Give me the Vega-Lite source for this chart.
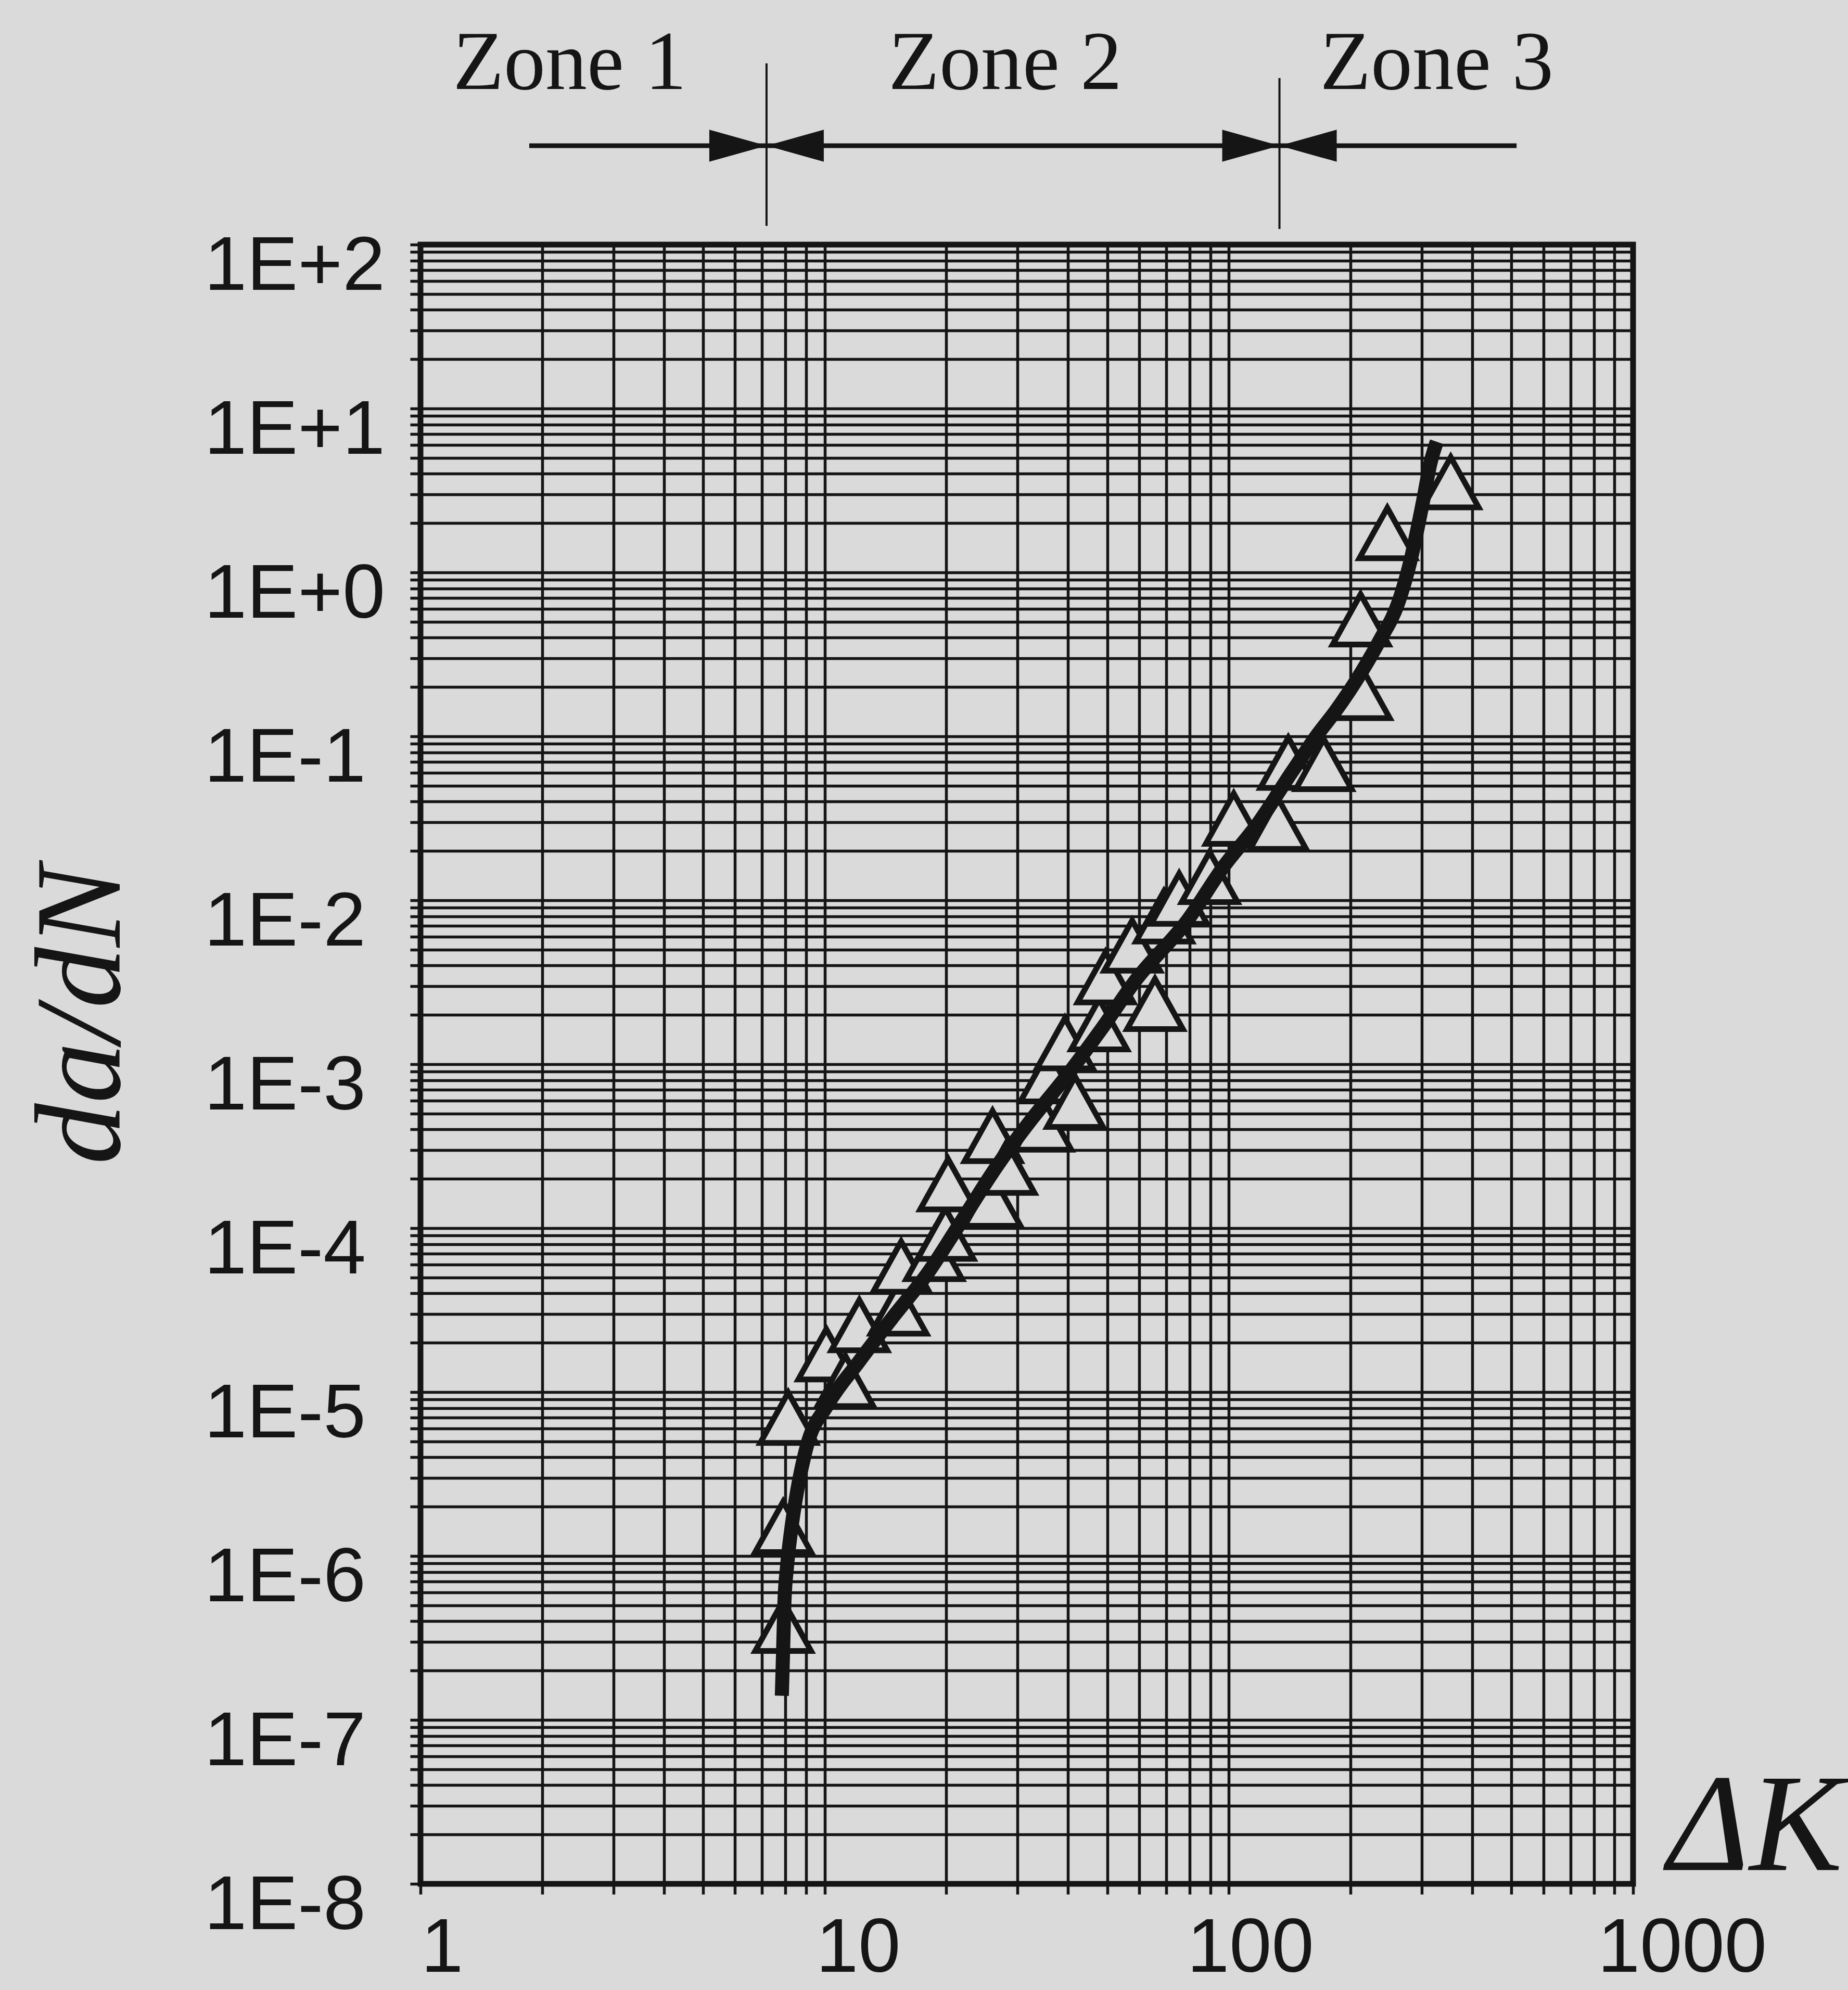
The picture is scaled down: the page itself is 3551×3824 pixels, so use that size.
{
  "$schema": "https://vega.github.io/schema/vega-lite/v6.json",
  "width": 2330,
  "height": 3150,
  "autosize": {"type": "none"},
  "padding": {"left": 808, "top": 470, "right": 413, "bottom": 204},
  "background": "#dadada",
  "config": {"view": {"stroke": "#151515", "strokeWidth": 11}},
  "datasets": {
    "points": [
      {"dk": 7.892, "dadn": 3.745e-7}, {"dk": 7.892, "dadn": 1.504e-6}, {"dk": 8.123, "dadn": 6.97e-6},
      {"dk": 10.09, "dadn": 1.70e-5}, {"dk": 11.25, "dadn": 1.169e-5}, {"dk": 12.18, "dadn": 2.56e-5},
      {"dk": 15.24, "dadn": 3.23e-5}, {"dk": 15.46, "dadn": 5.82e-5}, {"dk": 18.66, "dadn": 6.95e-5},
      {"dk": 19.91, "dadn": 9.24e-5}, {"dk": 20.20, "dadn": 1.853e-4}, {"dk": 26.02, "dadn": 1.47e-4},
      {"dk": 26.02, "dadn": 3.65e-4}, {"dk": 28.18, "dadn": 2.336e-4}, {"dk": 34.75, "dadn": 4.28e-4},
      {"dk": 35.77, "dadn": 8.44e-4}, {"dk": 39.29, "dadn": 1.341e-3}, {"dk": 41.64, "dadn": 5.90e-4},
      {"dk": 47.76, "dadn": 1.752e-3}, {"dk": 49.52, "dadn": 3.39e-3}, {"dk": 57.64, "dadn": 5.29e-3},
      {"dk": 65.64, "dadn": 2.331e-3}, {"dk": 69.07, "dadn": 7.97e-3}, {"dk": 75.33, "dadn": 0.01023},
      {"dk": 89.61, "dadn": 0.01386}, {"dk": 102.8, "dadn": 0.03147}, {"dk": 132.4, "dadn": 0.0293},
      {"dk": 140.3, "dadn": 0.069}, {"dk": 171.7, "dadn": 0.0677}, {"dk": 213.3, "dadn": 0.1838},
      {"dk": 211.8, "dadn": 0.517}, {"dk": 246.6, "dadn": 1.738}, {"dk": 353.9, "dadn": 3.546}
    ],
    "curve": [
      {"dk": 7.834, "dadn": 1.404e-7}, {"dk": 7.892, "dadn": 2.668e-7}, {"dk": 7.949, "dadn": 5.16e-7},
      {"dk": 8.065, "dadn": 8.50e-7}, {"dk": 8.241, "dadn": 1.376e-6}, {"dk": 8.544, "dadn": 2.477e-6},
      {"dk": 9.022, "dadn": 4.625e-6}, {"dk": 10.16, "dadn": 8.33e-6}, {"dk": 12.14, "dadn": 1.527e-5},
      {"dk": 14.81, "dadn": 2.901e-5}, {"dk": 17.99, "dadn": 5.32e-5}, {"dk": 21.41, "dadn": 1.029e-4},
      {"dk": 26.78, "dadn": 2.421e-4}, {"dk": 32.56, "dadn": 4.64e-4}, {"dk": 39.72, "dadn": 8.51e-4},
      {"dk": 48.45, "dadn": 1.646e-3}, {"dk": 58.90, "dadn": 3.27e-3}, {"dk": 79.23, "dadn": 7.62e-3},
      {"dk": 96.67, "dadn": 0.01584}, {"dk": 117.9, "dadn": 0.0293}, {"dk": 143.3, "dadn": 0.0608},
      {"dk": 166.3, "dadn": 0.1039}, {"dk": 183.3, "dadn": 0.1419}, {"dk": 213.3, "dadn": 0.2489},
      {"dk": 235.2, "dadn": 0.3784}, {"dk": 263.1, "dadn": 0.6638}, {"dk": 280.8, "dadn": 1.153},
      {"dk": 301.8, "dadn": 2.666}, {"dk": 315.2, "dadn": 4.633}, {"dk": 326.8, "dadn": 6.27}
    ],
    "zones": [
      {"zone": "Zone 1", "dk": 2.34, "dadn": 889},
      {"zone": "Zone 2", "dk": 27.97, "dadn": 889},
      {"zone": "Zone 3", "dk": 326.8, "dadn": 889}
    ],
    "bounds": [
      {"dk": 7.18, "dadn": 1274, "bottom": 130},
      {"dk": 133.4, "dadn": 1038, "bottom": 124.5}
    ],
    "arrow": [{"dk": 1.858, "dk2": 515, "dadn": 401}],
    "heads": [{"dk": 7.18, "dadn": 401}, {"dk": 133.4, "dadn": 401}]
  },
  "encoding": {
    "x": {
      "field": "dk", "type": "quantitative",
      "scale": {"type": "log", "domain": [1, 1000], "nice": false},
      "axis": {
        "values": [1,2,3,4,5,6,7,8,9,10,20,30,40,50,60,70,80,90,100,200,300,400,500,600,700,800,900,1000],
        "labelExpr": "datum.value == 1 || datum.value == 10 || datum.value == 100 || datum.value == 1000 ? '' + datum.value : ''",
        "grid": true, "gridColor": "#151515", "gridWidth": 5.5, "gridOpacity": 1,
        "domain": false,
        "ticks": true, "tickColor": "#151515", "tickWidth": 5.5, "tickSize": 20,
        "labelFont": "Liberation Sans", "labelFontSize": 146, "labelColor": "#151515", "labelLimit": 0,
        "labelPadding": 33,
        "labelOffset": {"condition": [{"test": "datum.value == 10", "value": 64}, {"test": "datum.value == 1000", "value": 94}], "value": 41},
        "labelFlush": false, "labelOverlap": false, "labelAlign": "center", "labelBaseline": "top",
        "title": "ΔK", "titleFont": "Liberation Serif", "titleFontStyle": "italic", "titleFontWeight": "normal",
        "titleFontSize": 268, "titleColor": "#151515", "titleLimit": 0, "titleX": 2564, "titleY": -27,
        "titleAlign": "center", "titleBaseline": "alphabetic", "titleAngle": 0
      }
    },
    "y": {
      "field": "dadn", "type": "quantitative",
      "scale": {"type": "log", "domain": [1e-8, 100], "nice": false},
      "axis": {
        "values": [1e-8,2e-8,3e-8,4e-8,5e-8,6e-8,7e-8,8e-8,9e-8,1e-7,2e-7,3e-7,4e-7,5e-7,6e-7,7e-7,8e-7,9e-7,1e-6,2e-6,3e-6,4e-6,5e-6,6e-6,7e-6,8e-6,9e-6,1e-5,2e-5,3e-5,4e-5,5e-5,6e-5,7e-5,8e-5,9e-5,1e-4,2e-4,3e-4,4e-4,5e-4,6e-4,7e-4,8e-4,9e-4,1e-3,2e-3,3e-3,4e-3,5e-3,6e-3,7e-3,8e-3,9e-3,1e-2,2e-2,3e-2,4e-2,5e-2,6e-2,7e-2,8e-2,9e-2,0.1,0.2,0.3,0.4,0.5,0.6,0.7,0.8,0.9,1,2,3,4,5,6,7,8,9,10,20,30,40,50,60,70,80,90,100],
        "labelExpr": "datum.value == 100 ? '1E+2' : datum.value == 10 ? '1E+1' : datum.value == 1 ? '1E+0' : datum.value == 0.1 ? '1E-1' : datum.value == 1e-2 ? '1E-2' : datum.value == 1e-3 ? '1E-3' : datum.value == 1e-4 ? '1E-4' : datum.value == 1e-5 ? '1E-5' : datum.value == 1e-6 ? '1E-6' : datum.value == 1e-7 ? '1E-7' : datum.value == 1e-8 ? '1E-8' : ''",
        "grid": true, "gridColor": "#151515", "gridWidth": 5.5, "gridOpacity": 1,
        "domain": false,
        "ticks": true, "tickColor": "#151515", "tickWidth": 5.5, "tickSize": 20,
        "labelFont": "Liberation Sans", "labelFontSize": 147, "labelColor": "#151515", "labelLimit": 0,
        "labelAlign": "left", "labelBaseline": "middle", "labelPadding": 396, "labelOffset": 42,
        "labelOverlap": false, "labelFlush": false,
        "title": "da/dN", "titleFont": "Liberation Serif", "titleFontStyle": "italic", "titleFontWeight": "normal",
        "titleFontSize": 235, "titleColor": "#151515", "titleLimit": 0, "titleAngle": 270, "titleX": -650, "titleY": 1480,
        "titleAlign": "center", "titleBaseline": "middle"
      }
    }
  },
  "layer": [
    {
      "data": {"name": "points"},
      "mark": {"type": "point", "shape": "M0,-0.9L-1,0.9L1,0.9Z", "size": 11500, "filled": true, "fill": "#dadada", "stroke": "#151515", "strokeWidth": 11, "opacity": 1}
    },
    {
      "data": {"name": "curve"},
      "mark": {"type": "line", "color": "#151515", "strokeWidth": 27, "interpolate": "monotone"}
    },
    {
      "data": {"name": "bounds"},
      "mark": {"type": "rule", "color": "#151515", "strokeWidth": 4},
      "encoding": {"y2": {"field": "bottom"}}
    },
    {
      "data": {"name": "arrow"},
      "mark": {"type": "rule", "color": "#151515", "strokeWidth": 9},
      "encoding": {"x2": {"field": "dk2"}}
    },
    {
      "data": {"name": "heads"},
      "mark": {"type": "point", "shape": "M0,0L-2,-0.56L-2,0.56Z", "size": 12100, "filled": true, "color": "#151515", "opacity": 1, "strokeWidth": 0}
    },
    {
      "data": {"name": "heads"},
      "mark": {"type": "point", "shape": "M0,0L2,-0.56L2,0.56Z", "size": 12100, "filled": true, "color": "#151515", "opacity": 1, "strokeWidth": 0}
    },
    {
      "data": {"name": "zones"},
      "mark": {"type": "text", "font": "Liberation Serif", "fontSize": 160, "color": "#151515", "align": "center", "baseline": "alphabetic"},
      "encoding": {"text": {"field": "zone"}}
    }
  ]
}
